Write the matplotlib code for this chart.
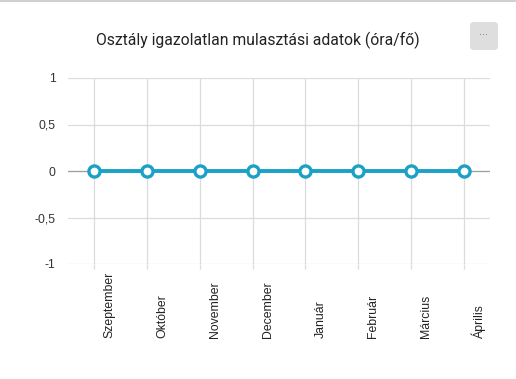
import matplotlib
matplotlib.use("Agg")
import matplotlib.pyplot as plt
from matplotlib.patches import FancyBboxPatch
from matplotlib.lines import Line2D
from matplotlib.transforms import ScaledTranslation

months = ['Szeptember', 'Október', 'November', 'December',
          'Január', 'Február', 'Március', 'Április']
values = [0, 0, 0, 0, 0, 0, 0, 0]
yticks = [-1, -0.5, 0, 0.5, 1]
ytick_labels = ['-1', '-0,5', '0', '0,5', '1']

W, H = 516, 379
fig = plt.figure(figsize=(W / 100, H / 100), dpi=100)
ax = fig.add_axes([68 / W, 115 / H, 422 / W, 186 / H])

x = list(range(len(months)))
ax.plot(x, values, color='#1ba1c6', lw=2.8, marker='o', markersize=8,
        markerfacecolor='white', markeredgecolor='#1ba1c6', markeredgewidth=2.4,
        zorder=5, clip_on=False)

ax.set_xlim(-0.5, len(months) - 0.5)
ax.set_ylim(-1, 1)
ax.set_yticks(yticks)
ax.set_yticklabels(ytick_labels, family='Liberation Sans', fontsize=8.8, color='#333333')
ax.set_xticks(x)
ax.set_xticklabels([])
ax.tick_params(axis='y', length=0, pad=9)
ax.tick_params(axis='x', length=3.5, width=0.9, color='#dcdcdc')

# month labels: rotated, bottoms aligned, shifted right of the grid line
offset = ScaledTranslation(15 / 100, -74 / 100, fig.dpi_scale_trans)
for xi, m in zip(x, months):
    ax.text(xi, 0, m, rotation=90, family='Liberation Sans', fontsize=8.8,
            color='#222222', ha='center', va='bottom',
            transform=ax.get_xaxis_transform() + offset)

ax.grid(True, color='#dcdcdc', lw=0.9)
ax.axhline(0, color='#a0a0a0', lw=0.9, zorder=1)
for s in ax.spines.values():
    s.set_visible(False)
ax.set_axisbelow(True)

fig.text(258 / W, 1 - 40 / H, 'Osztály igazolatlan mulasztási adatok (óra/fő)',
         family='Roboto', fontsize=11.3, color='#222222', ha='center', va='center')

# menu button
btn = FancyBboxPatch((470 / W, 1 - 50 / H), 28 / W, 28 / H,
                     boxstyle='round,pad=0,rounding_size=0.008',
                     transform=fig.transFigure, facecolor='#dedede', edgecolor='none')
fig.patches.append(btn)
fig.text(484 / W, 1 - 35 / H, '···', ha='center', va='center', fontsize=7, color='#777777')

fig.lines.append(Line2D([0, 1], [1 - 0.8 / H, 1 - 0.8 / H], transform=fig.transFigure,
                        color='#d0d0d0', lw=1.5))

fig.savefig('out.png', dpi=100)
